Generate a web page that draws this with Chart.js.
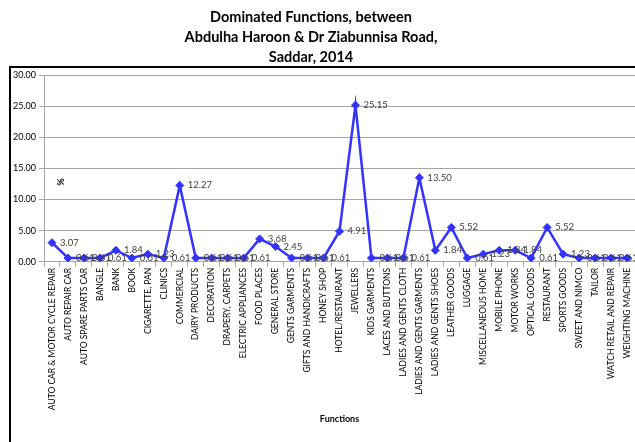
<!DOCTYPE html>
<html>
<head>
<meta charset="utf-8">
<script src="https://cdn.jsdelivr.net/npm/chart.js@4.4.1/dist/chart.umd.min.js"></script>
<style>
  html, body { margin: 0; padding: 0; background: #fff; overflow: hidden; }
  #wrap { width: 640px; height: 442px; position: relative; }
</style>
</head>
<body>
<div id="wrap"><canvas id="c" width="640" height="442"></canvas></div>
<script>
// Shop functions along the road and their share (%)
const functions = [
  "AUTO CAR & MOTOR CYCLE REPAIR", "AUTO REPAIR CAR", "AUTO SPARE PARTS CAR", "BANGLE", "BANK",
  "BOOK", "CIGARETTE, PAN", "CLINICS", "COMMERCIAL", "DAIRY PRODUCTS", "DECORATION",
  "DRAPERY, CARPETS", "ELECTRIC APPLIANCES", "FOOD PLACES", "GENERAL STORE", "GENTS GARMENTS",
  "GIFTS AND HANDICRAFTS", "HONEY SHOP", "HOTEL/RESTAURANT", "JEWELLERS", "KIDS GARMENTS",
  "LACES AND BUTTONS", "LADIES AND GENTS CLOTH", "LADIES AND GENTS GARMENTS",
  "LADIES AND GENTS SHOES", "LEATHER GOODS", "LUGGAGE", "MISCELLANEOUS HOME", "MOBILE PHONE",
  "MOTOR WORKS", "OPTICAL GOODS", "RESTAURANT", "SPORTS GOODS", "SWEET AND NIMCO", "TAILOR",
  "WATCH RETAIL AND REPAIR", "WEIGHTING MACHINE"
];
const percentShare = [
  3.07, 0.61, 0.61, 0.61, 1.84,
  0.61, 1.23, 0.61, 12.27, 0.61, 0.61,
  0.61, 0.61, 3.68, 2.45, 0.61,
  0.61, 0.61, 4.91, 25.15, 0.61,
  0.61, 0.61, 13.50,
  1.84, 5.52, 0.61, 1.23, 1.84,
  1.84, 0.61, 5.52, 1.23, 0.61, 0.61,
  0.61, 0.61
];
const titleLines = ["Dominated Functions, between", "Abdulha Haroon & Dr Ziabunnisa Road,", "Saddar, 2014"];
const yTicksMax = 30;
const yStep = 5;

const FONT = "Lato, 'Liberation Sans', sans-serif";
const LINE_BLUE = "#3333ff";

// Title, frame and side labels drawn around the plot
const decorations = {
  id: "decorations",
  beforeDraw(chart) {
    const ctx = chart.ctx;
    ctx.save();
    ctx.fillStyle = "#fff";
    ctx.fillRect(0, 0, chart.width, chart.height);
    ctx.strokeStyle = "#000";
    ctx.lineWidth = 2;
    ctx.strokeRect(10, 67, 700, 500);
    ctx.fillStyle = "#000";
    ctx.font = "bold 14.5px " + FONT;
    ctx.textAlign = "center";
    ctx.textBaseline = "middle";
    titleLines.forEach((t, i) => ctx.fillText(t, 311, 17 + i * 20));
    ctx.restore();
  },
  afterDraw(chart) {
    const ctx = chart.ctx;
    ctx.save();
    ctx.translate(60, 182);
    ctx.rotate(Math.PI / 2);
    ctx.font = "bold 9px " + FONT;
    ctx.fillStyle = "#000";
    ctx.textAlign = "center";
    ctx.textBaseline = "middle";
    ctx.fillText("%", 0, 0);
    ctx.restore();
  }
};

// Value labels to the right of each point
const valueLabels = {
  id: "valueLabels",
  afterDatasetsDraw(chart) {
    const ctx = chart.ctx;
    const meta = chart.getDatasetMeta(0);
    ctx.save();
    ctx.font = "9.5px " + FONT;
    ctx.fillStyle = "#404040";
    ctx.textAlign = "left";
    ctx.textBaseline = "middle";
    meta.data.forEach((pt, i) => {
      ctx.fillText(percentShare[i].toFixed(2), pt.x + 8, pt.y);
    });
    ctx.restore();
  }
};

new Chart(document.getElementById("c"), {
  type: "line",
  data: {
    labels: functions,
    datasets: [{
      data: percentShare,
      borderColor: LINE_BLUE,
      backgroundColor: LINE_BLUE,
      borderWidth: 2.5,
      pointStyle: "rectRot",
      pointRadius: 4,
      pointBorderWidth: 1,
      tension: 0
    }]
  },
  options: {
    responsive: false,
    animation: false,
    layout: { padding: { top: 75, left: 10, right: 0, bottom: 18 } },
    plugins: {
      legend: { display: false },
      tooltip: { enabled: false }
    },
    scales: {
      x: {
        offset: true,
        grid: {
          display: true,
          offset: true,
          drawOnChartArea: false,
          drawTicks: true,
          tickLength: 5,
          color: "#a6a6a6"
        },
        border: { color: "#a6a6a6", width: 1 },
        ticks: {
          autoSkip: false,
          maxRotation: 90,
          minRotation: 90,
          padding: 1,
          color: "#000",
          font: { family: FONT, size: 8.5 }
        },
        title: {
          display: true,
          text: "Functions",
          color: "#000",
          font: { family: FONT, size: 9, weight: "bold" },
          padding: { top: 2, bottom: 0 }
        }
      },
      y: {
        min: 0,
        max: yTicksMax,
        ticks: {
          stepSize: yStep,
          padding: 3,
          color: "#000",
          font: { family: FONT, size: 9 },
          callback: v => Number(v).toFixed(2)
        },
        grid: {
          color: "#a6a6a6",
          lineWidth: 1,
          drawTicks: true,
          tickLength: 5
        },
        border: { color: "#a6a6a6", width: 1 }
      }
    }
  },
  plugins: [decorations, valueLabels]
});
</script>
</body>
</html>
